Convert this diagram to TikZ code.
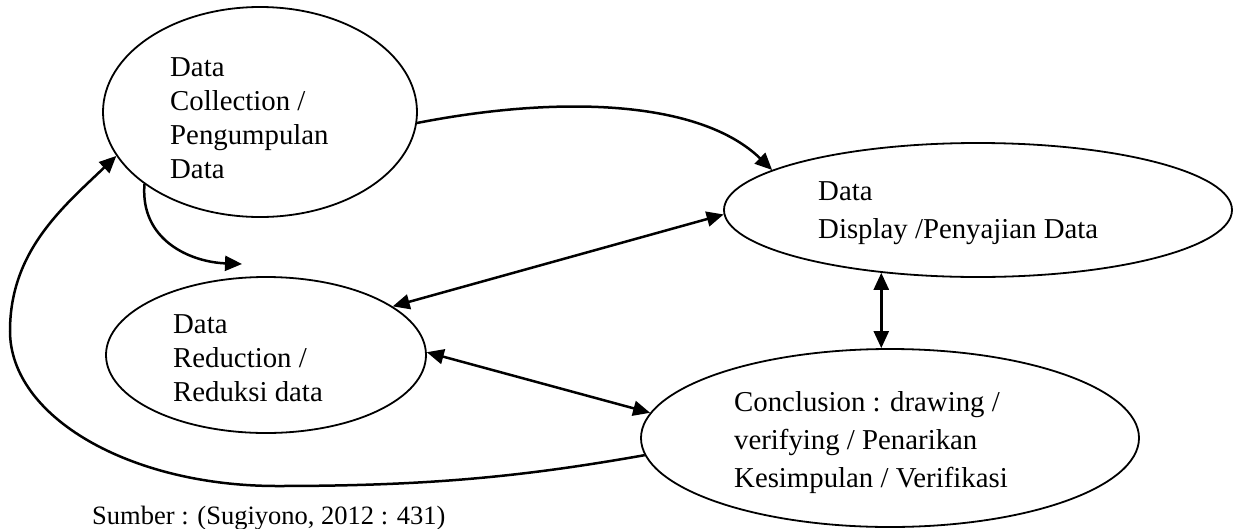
\documentclass[tikz,border=0pt]{standalone}
\usepackage{fontspec}
\setmainfont{Liberation Serif}
\usetikzlibrary{arrows.meta,shapes.geometric}
\begin{document}
\begin{tikzpicture}[x=1pt,y=-1pt,
  oval/.style={ellipse,draw,line width=1.8pt,inner sep=0pt},
  lbla/.style={align=left,anchor=west,inner sep=0pt,font=\fontsize{28.8}{34}\selectfont},
  lblb/.style={align=left,anchor=west,inner sep=0pt,font=\fontsize{28.8}{38}\selectfont},
  con/.style={line width=2.5pt},
  tip/.style={-{Triangle[length=17pt,width=15pt]}},
  dbl/.style={{Triangle[length=17pt,width=15pt]}-{Triangle[length=17pt,width=15pt]}}]
\useasboundingbox (0,0) rectangle (1235,528);
% ellipses
\node[oval,minimum width=314pt,minimum height=210pt] (e1) at (260,112) {};
\node[oval,minimum width=508pt,minimum height=134pt] (e2) at (978,210) {};
\node[oval,minimum width=320pt,minimum height=156pt] (e3) at (266,355) {};
\node[oval,minimum width=498pt,minimum height=178pt] (e4) at (890,438) {};
% texts
\node[lbla] (t1) at (170,118.5) {Data\\Collection /\\Pengumpulan\\Data};
\node[lblb] (t2) at (818,213.5) {Data\\Display /Penyajian Data};
\node[lbla] (t3) at (173,358.5) {Data\\Reduction /\\Reduksi data};
\node[lblb] (t4) at (734,443) {Conclusion : drawing /\\verifying / Penarikan\\Kesimpulan / Verifikasi};
\node[anchor=base west,inner sep=0pt,font=\fontsize{26.5}{30}\selectfont] (src) at (92,524) {Sumber : (Sugiyono, 2012 : 431)};
% connectors
\coordinate (a2end) at (242,264);
\draw[con,tip] (e1.-4) .. controls (560,95) and (700,100) .. (e2.169);
\draw[con,tip] (e1.212) .. controls (140,240) and (190,262) .. (a2end);
\draw[con,tip] (e4.184) .. controls (521,477) and (427,486) .. (277,486)
  .. controls (130,486) and (10,417) .. (10,331)
  .. controls (10,251) and (63,207) .. (e1.197);
\draw[con,dbl] (e3.21) -- (e2.181);
\draw[con,dbl] (e3.1) -- (e4.174.5);
\draw[con,dbl] (e2.213) -- (e2.213 |- e4.north);
\end{tikzpicture}
\end{document}
